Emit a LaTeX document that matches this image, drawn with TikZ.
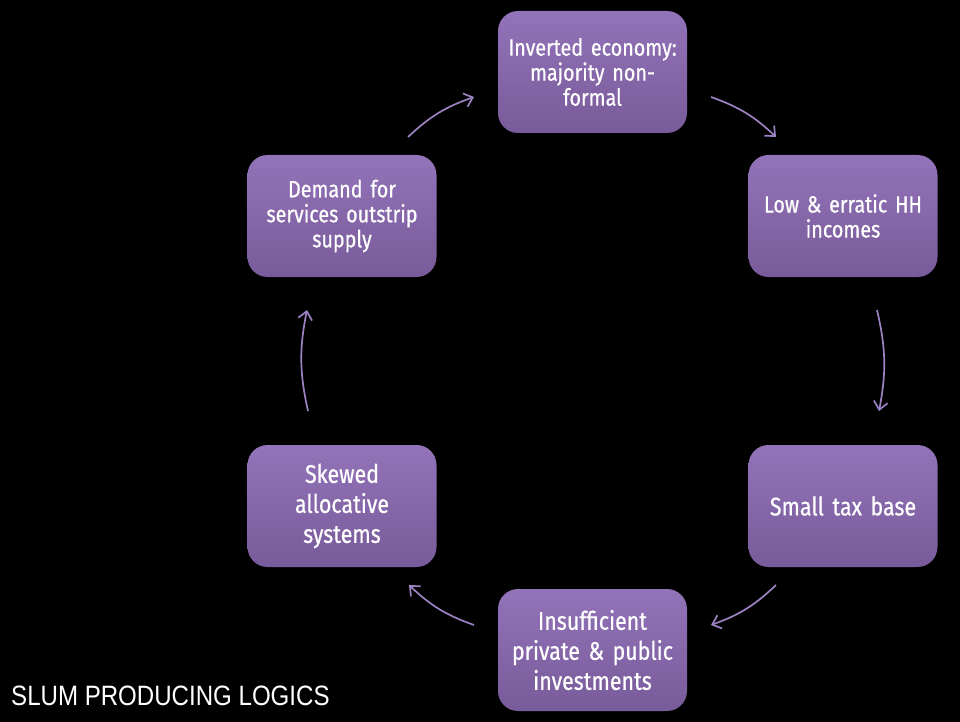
\documentclass[tikz,border=0pt]{standalone}
\usepackage{fontspec}
\setmainfont{Liberation Sans}
\newfontfamily\boxfont[FakeStretch=0.84,FakeBold=0.6,WordSpace=0.7]{Fira Sans}
\newfontfamily\titlefont[FakeStretch=0.86]{Liberation Sans}
\usetikzlibrary{arrows.meta}
\definecolor{boxtop}{HTML}{9373B9}
\definecolor{boxbot}{HTML}{785B9A}
\definecolor{arr}{HTML}{9C82C2}
\tikzset{
  cyclebox/.style={rounded corners=20pt, minimum width=189pt, minimum height=122pt,
    top color=boxtop, bottom color=boxbot, draw=none, text=white, align=center,
    text width=180pt, inner sep=0pt},
  small/.style={font=\boxfont\fontsize{23.5}{25}\selectfont},
  big/.style={font=\boxfont\fontsize{25.5}{30}\selectfont},
  cyclearrow/.style={draw=arr, line width=1.7pt, -{Straight Barb[length=8pt,width=14pt,line width=1.7pt]}, bend left=12}
}
\begin{document}
\begin{tikzpicture}[x=1pt,y=-1pt]
\fill[black] (0,0) rectangle (960,722);
\useasboundingbox (0,0) rectangle (960,722);
\node[cyclebox,small] (top) at (592.5,72) {Inverted economy:\\majority non-\\formal};
\node[cyclebox,small] (ru) at (843,216) {Low \& erratic HH\\incomes};
\node[cyclebox,big] (rl) at (843,506) {Small tax base};
\node[cyclebox,big] (bot) at (592.5,650) {Insufficient\\private \& public\\investments};
\node[cyclebox,big] (ll) at (342,506) {Skewed\\allocative\\systems};
\node[cyclebox,small] (lu) at (342,216) {Demand for\\services outstrip\\supply};
\coordinate (a1s) at (408,137); \coordinate (a1e) at (474,97);
\coordinate (a2s) at (711,97); \coordinate (a2e) at (776,137);
\coordinate (a3s) at (877,310); \coordinate (a3e) at (879,411);
\coordinate (a4s) at (776,585); \coordinate (a4e) at (711,625);
\coordinate (a5s) at (474,625); \coordinate (a5e) at (409,585);
\coordinate (a6s) at (308,411); \coordinate (a6e) at (307,310);
\draw[cyclearrow] (a1s) to (a1e);
\draw[cyclearrow] (a2s) to (a2e);
\draw[cyclearrow] (a3s) to (a3e);
\draw[cyclearrow] (a4s) to (a4e);
\draw[cyclearrow] (a5s) to (a5e);
\draw[cyclearrow] (a6s) to (a6e);
\node[anchor=west, text=white, font=\titlefont\fontsize{28}{30}\selectfont, inner sep=0pt] (title) at (11,695.5) {SLUM PRODUCING LOGICS};
\end{tikzpicture}
\end{document}
